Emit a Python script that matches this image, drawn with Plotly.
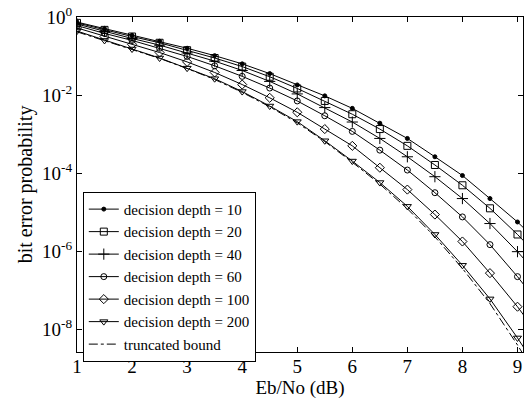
import plotly.graph_objects as go

ebno = [1, 1.5, 2, 2.5, 3, 3.5, 4, 4.5, 5, 5.5, 6, 6.5, 7, 7.5, 8, 8.5, 9, 9.5]

# log10 of bit error probability
log_d10 = [-0.13, -0.30, -0.47, -0.62, -0.80, -0.99, -1.20, -1.45, -1.74, -2.02, -2.34, -2.72, -3.11, -3.58, -4.06, -4.65, -5.25, -5.93]
log_d20 = [-0.15, -0.33, -0.50, -0.66, -0.85, -1.05, -1.27, -1.53, -1.83, -2.15, -2.49, -2.87, -3.30, -3.79, -4.31, -4.90, -5.57, -6.30]
log_d40 = [-0.18, -0.37, -0.55, -0.72, -0.92, -1.13, -1.37, -1.65, -1.97, -2.32, -2.69, -3.11, -3.58, -4.09, -4.65, -5.29, -6.01, -6.80]
log_d60 = [-0.22, -0.42, -0.60, -0.80, -1.01, -1.25, -1.52, -1.82, -2.15, -2.53, -2.93, -3.41, -3.92, -4.50, -5.12, -5.83, -6.65, -7.55]
log_d100 = [-0.28, -0.50, -0.70, -0.91, -1.15, -1.42, -1.73, -2.07, -2.44, -2.87, -3.30, -3.86, -4.42, -5.06, -5.75, -6.56, -7.42, -8.38]
log_d200 = [-0.36, -0.60, -0.82, -1.05, -1.31, -1.58, -1.91, -2.28, -2.68, -3.17, -3.69, -4.24, -4.85, -5.57, -6.36, -7.22, -8.22, -9.30]
log_bound = [-0.38, -0.61, -0.83, -1.06, -1.32, -1.60, -1.93, -2.30, -2.71, -3.19, -3.72, -4.28, -4.91, -5.63, -6.44, -7.34, -8.40, -9.55]

names = ["decision depth = 10", "decision depth = 20", "decision depth = 40",
         "decision depth = 60", "decision depth = 100", "decision depth = 200"]
series = [log_d10, log_d20, log_d40, log_d60, log_d100, log_d200]
symbols = ["circle", "square-open", "cross-thin-open", "circle-open", "diamond-open", "triangle-down-open"]
sizes = [4, 7, 8, 6, 7, 7]

ytick_vals = [0, -2, -4, -6, -8]
xtick_vals = [1, 2, 3, 4, 5, 6, 7, 8, 9]

fig = go.Figure()
for name, vals, sym, sz in zip(names, series, symbols, sizes):
    fig.add_trace(go.Scatter(
        x=ebno, y=[10 ** v for v in vals], name=name, mode="lines+markers",
        line=dict(color="black", width=1),
        marker=dict(symbol=sym, size=sz, color="black", line=dict(color="black", width=1)),
    ))
fig.add_trace(go.Scatter(
    x=ebno, y=[10 ** v for v in log_bound], name="truncated bound", mode="lines",
    line=dict(color="black", width=1, dash="dashdot"),
))

font_family = "Liberation Serif"
fig.update_layout(
    width=526, height=399,
    margin=dict(l=77, r=3, t=17, b=47),
    paper_bgcolor="white", plot_bgcolor="white",
    font=dict(family=font_family, color="black", size=18),
    showlegend=True,
    legend=dict(
        x=0.013, y=0.478, xanchor="left", yanchor="top",
        bgcolor="white", bordercolor="black", borderwidth=1,
        font=dict(family=font_family, size=15, color="black"),
        itemwidth=30, tracegroupgap=0,
    ),
    xaxis=dict(
        range=[1, 9.1], tickvals=xtick_vals, ticktext=[str(v) for v in xtick_vals],
        ticks="inside", ticklen=5, tickcolor="black",
        showline=True, linecolor="black", linewidth=1, mirror="ticks",
        showgrid=False, zeroline=False,
        tickfont=dict(size=19), ticklabelstandoff=-3,
        title=dict(text="Eb/No (dB)", font=dict(size=19), standoff=0),
    ),
    yaxis=dict(
        type="log", range=[-8.58, 0],
        tickvals=[10 ** v for v in ytick_vals],
        ticktext=["10<sup>%d</sup>" % v for v in ytick_vals],
        ticks="inside", ticklen=5, tickcolor="black",
        showline=True, linecolor="black", linewidth=1, mirror="ticks",
        showgrid=False, zeroline=False,
        tickfont=dict(size=19),
        title=dict(text="bit error probability", font=dict(size=20), standoff=4),
    ),
)

fig.write_html(
    "out.html",
    config={"displayModeBar": False},
    post_script="document.body.style.margin='0';document.body.style.overflow='hidden';",
)
